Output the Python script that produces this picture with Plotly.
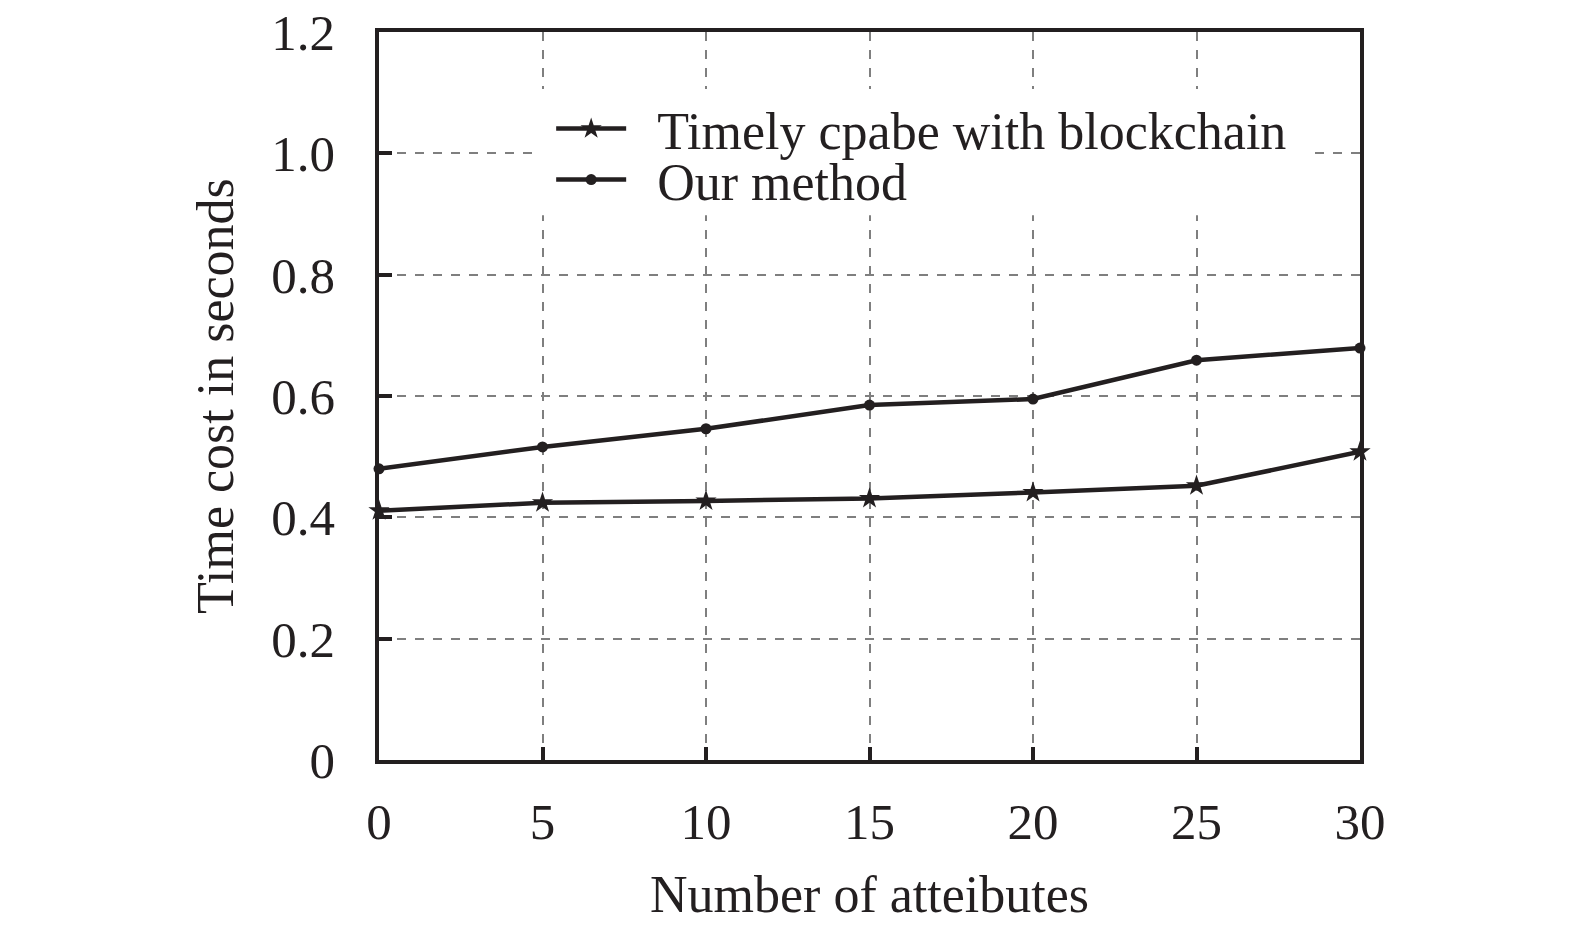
import plotly.graph_objects as go

# data
attributes = [0, 5, 10, 15, 20, 25, 30]
timely_cpabe = [0.411, 0.424, 0.427, 0.431, 0.441, 0.452, 0.508]
our_method = [0.480, 0.516, 0.546, 0.585, 0.595, 0.659, 0.679]

x_ticks = [0, 5, 10, 15, 20, 25, 30]
y_ticks = [0, 0.2, 0.4, 0.6, 0.8, 1.0, 1.2]
y_tick_labels = ['0', '0.2', '0.4', '0.6', '0.8', '1.0', '1.2']

ink = '#231f20'
font_family = 'Liberation Serif, Times New Roman, serif'
gap = '\u00a0\u00a0'  # small gap between legend line and text

fig = go.Figure()

fig.add_trace(go.Scatter(
    x=attributes,
    y=timely_cpabe,
    mode='lines+markers',
    name=gap + 'Timely cpabe with blockchain',
    line=dict(color=ink, width=4.5),
    marker=dict(symbol='star', size=16, color=ink),
    cliponaxis=False,
    legend='legend',
))

fig.add_trace(go.Scatter(
    x=attributes,
    y=our_method,
    mode='lines+markers',
    name=gap + 'Our method',
    line=dict(color=ink, width=4.5),
    marker=dict(symbol='circle', size=11, color=ink),
    cliponaxis=False,
    legend='legend2',
))

axis_common = dict(
    automargin=False,
    showline=True,
    linecolor=ink,
    linewidth=3.5,
    mirror=True,
    ticks='inside',
    ticklen=13,
    tickwidth=3.5,
    tickcolor=ink,
    showgrid=True,
    gridcolor='#7f7f7f',
    gridwidth=1.5,
    griddash='dash',
    zeroline=False,
    ticklabeloverflow='allow',
    tickfont=dict(family=font_family, size=51, color=ink),
    title_font=dict(family=font_family, size=52, color=ink),
)

legend_common = dict(
    x=0.1755,
    xanchor='left',
    yanchor='middle',
    bgcolor='rgba(0,0,0,0)',
    borderwidth=0,
    itemwidth=70,
    font=dict(family=font_family, size=52, color=ink),
)

# white box behind the legend, hiding the grid there (above grid, below traces)
fig.add_shape(
    type='rect', xref='x', yref='y',
    x0=4.75, x1=28.55, y0=0.898, y1=1.106,
    fillcolor='white', line=dict(width=0), layer='between',
)

fig.update_layout(
    width=1575,
    height=935,
    margin=dict(l=371, r=223, t=24, b=183, autoexpand=False),
    paper_bgcolor='white',
    plot_bgcolor='white',
    font=dict(family=font_family, size=52, color=ink),
    showlegend=True,
    legend=dict(y=0.867, **legend_common),
    legend2=dict(y=0.797, **legend_common),
    xaxis=dict(
        range=[0, 30],
        tickvals=x_ticks,
        title=dict(text='Number of atteibutes', standoff=28),
        ticklabelstandoff=14,
        **axis_common,
    ),
    yaxis=dict(
        range=[0, 1.2],
        tickvals=y_ticks,
        ticktext=y_tick_labels,
        title=dict(text='Time cost in seconds', standoff=22),
        ticklabelstandoff=30,
        **axis_common,
    ),
)

fig.write_html('out.html')
